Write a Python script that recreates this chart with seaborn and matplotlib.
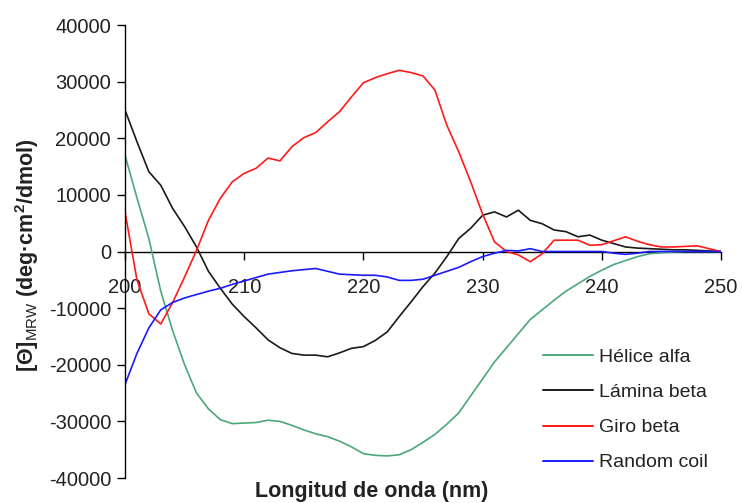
import numpy as np
import pandas as pd
import matplotlib
matplotlib.use("Agg")
import matplotlib.pyplot as plt
import seaborn as sns
from matplotlib.lines import Line2D

wavelength = list(range(200, 251))

helice_alfa = [17000, 9500, 2300, -7000, -14000, -20000, -25000, -27800, -29700, -30400,
               -30300, -30200, -29800, -30000, -30700, -31500, -32200, -32700, -33500, -34500,
               -35700, -36000, -36100, -35900, -35000, -33700, -32300, -30500, -28500, -25500,
               -22500, -19500, -17000, -14500, -12000, -10300, -8600, -7000, -5700, -4400,
               -3300, -2300, -1600, -900, -400, -200, -100, 0, 0, 0, 0]

lamina_beta = [25000, 19400, 14100, 11700, 7600, 4400, 800, -3500, -6500, -9300,
               -11500, -13500, -15600, -17000, -18000, -18300, -18300, -18600, -17900, -17100,
               -16800, -15700, -14200, -11500, -8900, -6200, -3800, -900, 2300, 4100,
               6400, 7000, 6100, 7300, 5500, 4900, 3800, 3500, 2600, 2900,
               2000, 1400, 800, 600, 500, 400, 300, 300, 200, 100, 0]

giro_beta = [7000, -5000, -11000, -12800, -9000, -4500, 200, 5500, 9400, 12300,
             13800, 14700, 16500, 16000, 18500, 20100, 21000, 22900, 24700, 27300,
             29800, 30700, 31400, 32000, 31600, 31000, 28500, 22300, 17600, 12300,
             6600, 1700, 0, -600, -1800, -400, 2000, 2000, 2000, 1100,
             1200, 1900, 2600, 1800, 1200, 800, 800, 900, 1000, 500, 0]

random_coil = [-23500, -18000, -13500, -10300, -9000, -8200, -7600, -7000, -6500, -5800,
               -5200, -4600, -4000, -3700, -3400, -3200, -3000, -3500, -4000, -4100,
               -4200, -4200, -4500, -5100, -5100, -4900, -4200, -3500, -2800, -1800,
               -900, -300, 200, 100, 500, 0, 0, 0, 0, 0,
               0, -300, -500, -300, 0, 0, 0, 0, 0, 0, 0]

series_names = ["Hélice alfa", "Lámina beta", "Giro beta", "Random coil"]
colors = ["#4aa87a", "#1a1a1a", "#ff1a1a", "#1a1aff"]

x_ticks = [200, 210, 220, 230, 240, 250]
y_ticks = [-40000, -30000, -20000, -10000, 0, 10000, 20000, 30000, 40000]

df = pd.concat([
    pd.DataFrame({"nm": wavelength, "val": vals, "serie": name})
    for name, vals in zip(series_names, [helice_alfa, lamina_beta, giro_beta, random_coil])
], ignore_index=True)

sns.set_style("ticks")
plt.rcParams["font.family"] = ["Liberation Sans", "DejaVu Sans"]
plt.rcParams["mathtext.fontset"] = "custom"
plt.rcParams["mathtext.rm"] = "Liberation Sans"
plt.rcParams["mathtext.bf"] = "Liberation Sans:bold"

fig = plt.figure(figsize=(7.42, 5.03), dpi=100)
ax = fig.add_axes([125/742, 1 - 478/503, (721 - 125)/742, (478 - 25)/503])

sns.lineplot(data=df, x="nm", y="val", hue="serie", hue_order=series_names,
             palette=dict(zip(series_names, colors)), linewidth=1.2, ax=ax,
             legend=False, estimator=None, sort=False)

ax.set_xlim(200, 250)
ax.set_ylim(-40000, 40000)
ax.set_xticks(x_ticks)
ax.set_yticks(y_ticks)
ax.set_xticklabels([str(t) for t in x_ticks])
ax.set_yticklabels([str(t) for t in y_ticks])

for s in ["top", "right"]:
    ax.spines[s].set_visible(False)
ax.spines["bottom"].set_position(("data", 0))
ax.spines["bottom"].set_color("black")
ax.spines["left"].set_color("black")
ax.spines["bottom"].set_linewidth(1.0)
ax.spines["left"].set_linewidth(1.0)
ax.spines["bottom"].set_zorder(1)

ax.tick_params(axis="x", direction="out", length=6, width=1.0, pad=13,
               labelsize=14.5, colors="black", labelcolor="#222222")
ax.tick_params(axis="y", direction="out", length=6, width=1.0, pad=4,
               labelsize=14.5, colors="black", labelcolor="#222222")

ax.set_xlabel("")
ax.set_ylabel("")
fig.text(372/742, 1 - 492/503, "Longitud de onda (nm)", ha="center", va="center",
         fontsize=15.5, fontweight="bold", color="#222222")
fig.text(27/742, 1 - 255/503,
         r"$\mathbf{[\Theta]}_{\mathrm{MRW}}$ (deg·cm$^{\mathbf{2}}$/dmol)",
         ha="center", va="center", rotation=90, fontsize=15.5, fontweight="bold",
         color="#222222")

handles = [Line2D([], [], color=c, lw=1.4) for c in colors]
leg = ax.legend(handles, series_names, loc="center left",
                bbox_to_anchor=(535/742, 1 - 410/503), bbox_transform=fig.transFigure,
                frameon=False, fontsize=14, handlelength=2.6, handletextpad=0.3,
                labelspacing=0.9, borderaxespad=0)
for t in leg.get_texts():
    t.set_color("#222222")

fig.savefig("out.png", dpi=100)
